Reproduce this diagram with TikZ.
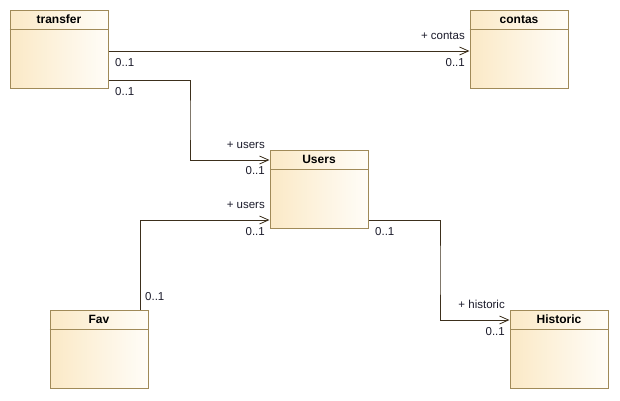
\documentclass[tikz,border=0pt]{standalone}
\usepackage{fontspec}
\setmainfont{Liberation Sans}
\usetikzlibrary{arrows.meta}
\definecolor{boxborder}{HTML}{A08A58}
\definecolor{boxleft}{HTML}{FBE9C6}
\definecolor{boxright}{HTML}{FFFDF8}
\definecolor{linecol}{HTML}{3C2F1C}
\definecolor{txtcol}{HTML}{1A1A2A}
\tikzset{
  cls/.style={draw=boxborder, line width=1pt, left color=boxleft, right color=boxright,
    minimum width=98pt, minimum height=78pt, inner sep=0pt},
  clstitle/.style={font=\fontsize{12}{14}\selectfont\bfseries, text=black, inner sep=0pt, anchor=center},
  sep/.style={draw=boxborder, line width=0.9pt},
  assoc/.style={draw=linecol, line width=0.9pt, -{Straight Barb[length=9pt,width=8pt,line width=0.8pt]}},
  lbl/.style={font=\fontsize{11.5}{13}\selectfont, text=txtcol, inner sep=0pt}
}
\newcommand{\umlclass}[3]{%
  \node[cls] (#1) at (#2) {};
  \node[clstitle] (#1-t) at ([yshift=-10pt]#1.north) {#3};
  \draw[sep] ([yshift=-20pt]#1.north west) -- ([yshift=-20pt]#1.north east);
}
\begin{document}
\begin{tikzpicture}[x=1pt,y=-1pt]
\useasboundingbox (0,0) rectangle (620,400);
\umlclass{transfer}{59,49}{transfer}
\umlclass{contas}{519,49}{contas}
\umlclass{users}{319,189}{Users}
\umlclass{fav}{99,349}{Fav}
\umlclass{historic}{559,349}{Historic}

% transfer -> contas
\draw[assoc] ([yshift=-2pt]transfer.east) -- ([yshift=-2pt]contas.west);
\node[lbl, anchor=east] (l1) at (465,36) {+ contas};
\node[lbl, anchor=east] (l2) at (465,63) {0..1};
\node[lbl, anchor=west] (l3) at (115,63) {0..1};

% transfer -> users
\draw[assoc] ([yshift=-31pt]transfer.east) -| (190,120) |- ([yshift=29pt]users.west);
\node[lbl, anchor=west] (l4) at (115,92) {0..1};
\node[lbl, anchor=east] (l5) at (265,145) {+ users};
\node[lbl, anchor=east] (l6) at (265,171) {0..1};

% fav -> users
\draw[assoc] ([xshift=41pt]fav.north) |- ([yshift=-31pt]users.west);
\node[lbl, anchor=west] (l7) at (145,297) {0..1};
\node[lbl, anchor=east] (l8) at (265,205) {+ users};
\node[lbl, anchor=east] (l9) at (265,232) {0..1};

% users -> historic
\draw[assoc] ([yshift=-31pt]users.east) -| (440,270) |- ([yshift=29pt]historic.west);
\node[lbl, anchor=west] (l10) at (375,232) {0..1};
\node[lbl, anchor=east] (l11) at (505,304) {+ historic};
\node[lbl, anchor=east] (l12) at (505,332) {0..1};
\end{tikzpicture}
\end{document}
